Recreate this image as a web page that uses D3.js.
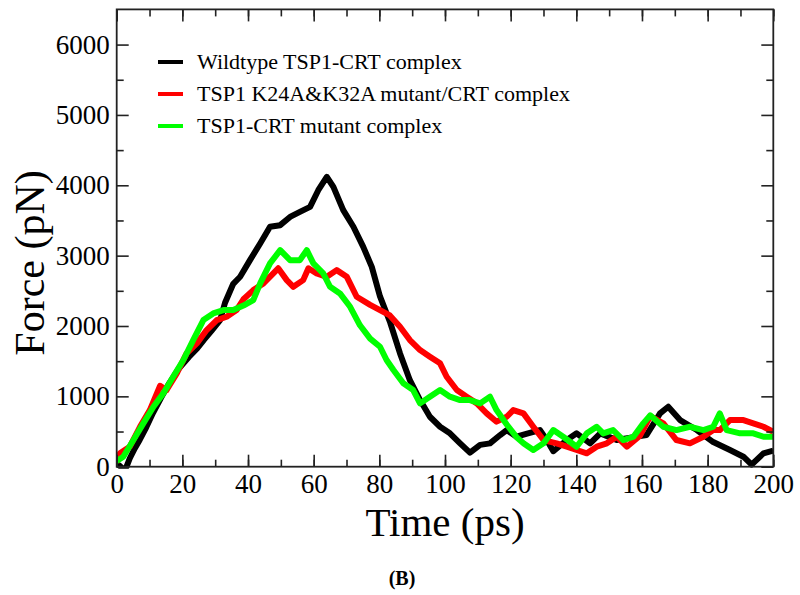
<html>
<script src='https://d3js.org/d3.v7.min.js'></script>
<style>
body { margin:0; background:white; }
</style>
<body>
<svg width=800 height=595 font-family="Liberation Serif, serif"></svg>
<script>

// series names and colours
const names = ["Wildtype TSP1-CRT complex", "TSP1 K24A&K32A mutant/CRT complex", "TSP1-CRT mutant complex"];
const colors = ["#000000", "#ff0000", "#00ff00"];

// Wildtype (black) : time (ps) / force (pN)
const wtTime  = [0,1,2,3,4,5.5,7,9,11,13.5,16,19,22,24.5,26.5,29,31.5,33,35.5,37.6,40.6,43.7,46.7,49.8,52.8,55.8,58.9,61.4,64,66,69,72.1,75.1,77.7,80.2,83.3,86.3,89.3,92.4,95.4,98.5,101.5,104.6,107.6,110.7,113.7,116.8,118.8,121.8,125,128.9,131,133,137.1,140.1,144.2,147.3,152.3,157.4,161.4,165.5,168,171.6,176.7,181.7,186.8,190.9,193.4,197,200];
const wtForce = [40,10,-40,0,120,260,380,560,760,980,1185,1400,1560,1680,1800,1940,2085,2330,2600,2700,2936,3173,3410,3433,3550,3622,3693,3930,4120,3977,3646,3410,3125,2840,2420,2050,1610,1230,947,710,568,474,332,200,310,332,450,521,426,470,521,380,220,379,474,332,474,379,420,450,758,852,663,521,350,237,142,30,190,230];

// K24A&K32A mutant (red)
const kmTime  = [0,1,4,7.1,10.1,13.2,15.2,18.3,21.3,24.4,27.4,30.5,33.5,36.5,38.6,41.6,44.7,47.7,49.2,51.8,53.8,56.8,58.4,60.9,64,67,70.1,73.1,77.2,80.2,83.2,86.3,89.3,92.4,95.4,98.5,100.5,103.6,106.6,109.7,112.7,115.7,118.8,120.8,123.9,126.9,130,134,137.1,140.1,143.2,146.2,149.3,152.3,155.4,159.4,162.5,166.5,170.5,174.6,178.7,181.7,183.7,186.8,190.9,193.9,197,200];
const kmForce = [60,190,284,568,805,1150,1090,1327,1611,1753,1942,2084,2131,2226,2380,2510,2605,2747,2820,2652,2557,2652,2820,2747,2699,2794,2699,2415,2300,2226,2150,1989,1800,1658,1563,1469,1279,1090,995,900,758,640,710,805,758,568,379,332,284,237,190,284,332,426,284,440,720,616,379,332,426,521,521,663,663,616,568,497];

// TSP1-CRT mutant (green)
const cmTime  = [0,2,5.1,8.1,11.2,14.2,17.2,20.3,23.3,26.4,29.4,32.5,35.5,38.6,41.6,43.7,46.7,49.8,52.8,55.8,57.9,59.9,62.9,65,68,71.1,74.1,77.2,80.2,82.2,84.3,87.3,90.3,92.4,95.4,98.5,101.5,104.6,107.6,110.7,113.7,115.7,118.8,121.8,124,126.9,130,133,136,140.1,143.2,146.2,148.2,151.2,154.3,157.4,160.4,162.5,166.5,170.5,174.6,178.7,181.7,183.7,185.8,189.9,193.9,197,200];
const cmForce = [80,142,379,616,852,1042,1279,1516,1800,2084,2178,2226,2226,2290,2368,2605,2889,3078,2936,2936,3078,2889,2747,2557,2463,2273,2010,1820,1705,1516,1374,1185,1090,900,995,1090,995,947,947,900,995,805,600,420,330,237,332,521,426,284,474,568,474,521,379,426,616,730,568,521,568,521,568,758,521,474,474,426,426];

// axis ticks
const xTicks = [0,20,40,60,80,100,120,140,160,180,200];
const yTicks = [0,1000,2000,3000,4000,5000,6000];

const series = [
  {name: names[0], color: colors[0], t: wtTime, f: wtForce},
  {name: names[1], color: colors[1], t: kmTime, f: kmForce},
  {name: names[2], color: colors[2], t: cmTime, f: cmForce}
];

const padL = 116.7, padR = 773.3, padT = 9.4, padB = 466.7;
const W = padR - padL, H = padB - padT;
const serif = "Liberation Serif, Times New Roman, serif";

var x = d3.scaleLinear().domain([0,200]).range([0, W]);
var y = d3.scaleLinear().domain([0,6500]).range([H, 0]);

var svg = d3.select("svg");
var canvas = svg.append("g").attr("transform", "translate(" + padL + "," + padT + ")");

// clip so thick lines stay in frame
canvas.append("clipPath").attr("id","clip")
.append("rect").attr("x",0).attr("y",-2).attr("width",W).attr("height",H+4);

var line = d3.line()
.x(function(d) {return x(d[0]);})
.y(function(d) {return y(d[1]);});

series.forEach(function(s) {
  var pts = s.t.map(function(t,i) {return [t, s.f[i]];});
  canvas.append("path")
  .attr("clip-path","url(#clip)")
  .attr("d", line(pts))
  .attr("fill","none")
  .attr("stroke", s.color)
  .attr("stroke-width", 6)
  .attr("stroke-linejoin","round");
});

// axes : major + minor ticks, inward, on all four sides
function styleAxis(g) {
  g.attr("font-family", serif).attr("font-size", 27);
  g.select(".domain").remove();
  g.selectAll("line").attr("stroke","#222").attr("stroke-width",1.6);
  g.selectAll("text").attr("fill","black");
}

canvas.append("g").attr("transform","translate(0," + H + ")")
.call(d3.axisBottom(x).tickValues(xTicks).tickSize(-12).tickPadding(7).tickFormat(d3.format("d")))
.call(styleAxis);
canvas.append("g").attr("transform","translate(0," + H + ")")
.call(d3.axisBottom(x).ticks(20).tickSize(-7).tickFormat(""))
.call(styleAxis);
canvas.append("g")
.call(d3.axisTop(x).tickValues(xTicks).tickSize(-12).tickFormat(""))
.call(styleAxis);
canvas.append("g")
.call(d3.axisTop(x).ticks(20).tickSize(-7).tickFormat(""))
.call(styleAxis);

canvas.append("g")
.call(d3.axisLeft(y).tickValues(yTicks).tickSize(-12).tickPadding(7).tickFormat(d3.format("d")))
.call(styleAxis);
canvas.append("g")
.call(d3.axisLeft(y).tickValues(d3.range(500,6500,1000)).tickSize(-7).tickFormat(""))
.call(styleAxis);
canvas.append("g").attr("transform","translate(" + W + ",0)")
.call(d3.axisRight(y).tickValues(yTicks).tickSize(-12).tickFormat(""))
.call(styleAxis);
canvas.append("g").attr("transform","translate(" + W + ",0)")
.call(d3.axisRight(y).tickValues(d3.range(500,6500,1000)).tickSize(-7).tickFormat(""))
.call(styleAxis);

// frame
canvas.append("rect")
.attr("x",0).attr("y",0).attr("width",W).attr("height",H)
.attr("fill","none").attr("stroke","#222").attr("stroke-width",1.8);

// legend
var legend = svg.append("g").attr("transform","translate(158,62)");
series.forEach(function(s,i) {
  legend.append("line")
  .attr("x1",0).attr("x2",25).attr("y1",i*32).attr("y2",i*32)
  .attr("stroke", s.color).attr("stroke-width",4);
  legend.append("text")
  .attr("x",39).attr("y",i*32 + 7)
  .attr("font-family", serif)
  .attr("font-size","22px")
  .text(s.name);
});

// axis titles
svg.append("text")
.attr("x", (padL+padR)/2).attr("y", 536)
.attr("text-anchor","middle")
.attr("font-family", serif)
.attr("font-size","41px")
.text("Time (ps)");

svg.append("text")
.attr("transform","translate(44,263) rotate(-90)")
.attr("text-anchor","middle")
.attr("font-family", serif)
.attr("font-size","42px")
.text("Force (pN)");

svg.append("text")
.attr("x", 402).attr("y", 585)
.attr("text-anchor","middle")
.attr("font-family", serif)
.attr("font-size","20px")
.attr("font-weight","bold")
.text("(B)");

</script>
</body>
</html>
